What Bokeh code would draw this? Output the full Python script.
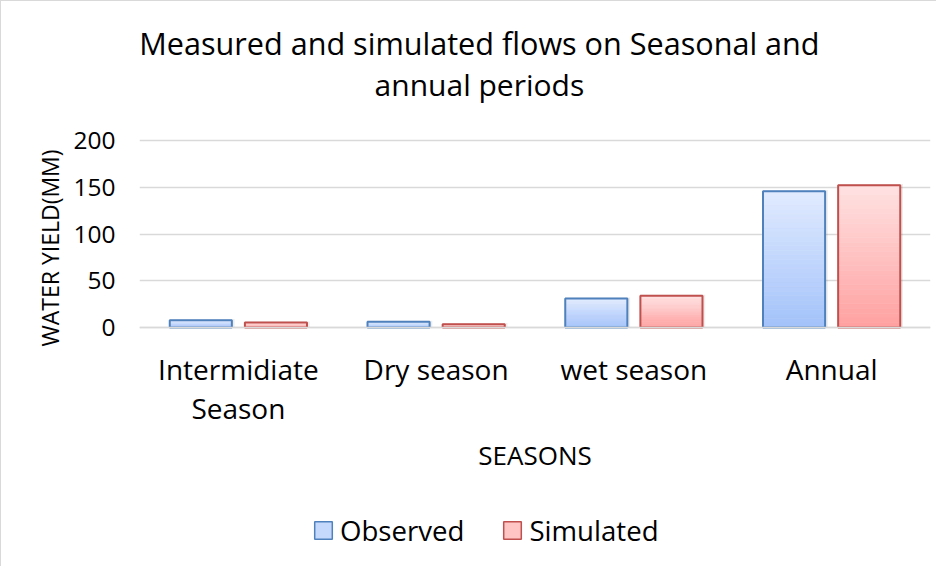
from bokeh.plotting import figure
from bokeh.models import (Range1d, FixedTicker, Title, Label, Legend, LegendItem,
                          ColumnDataSource)
from bokeh.embed import file_html
from bokeh.resources import INLINE

# ---------------- data ----------------
categories = ["Intermidiate\nSeason", "Dry season", "wet season", "Annual"]
observed = [7.8, 6.1, 31.0, 145.8]
simulated = [5.3, 3.5, 33.9, 152.2]
y_ticks = [0, 50, 100, 150, 200]
series_names = ["Observed", "Simulated"]

title_line1 = "Measured and simulated flows on Seasonal and"
title_line2 = "annual periods"
x_title = "SEASONS"
y_title = "WATER YIELD(MM)"

# ---------------- style ----------------
FONT = "Open Sans"
blue_bottom, blue_top = (163, 194, 250), (225, 235, 255)
red_bottom, red_top = (255, 160, 160), (255, 226, 226)
blue_line, red_line = "#4F81BD", "#C0504D"
grid_col = "#D9D9D9"
bar_w = 0.314
offset = 0.19
N_SEG = 30

# The frame spans the whole canvas height so that title, axis texts and
# legend (all drawn inside it) are never clipped; ticks/grid stay at 0..200.
Y_MAX = 348.7
Y_MIN = -256.7

p = figure(width=936, height=566, output_backend="svg", toolbar_location=None,
           title_location=None,
           x_range=Range1d(0, len(categories)), y_range=Range1d(Y_MIN, Y_MAX),
           min_border_left=138, min_border_right=7, min_border_top=0,
           min_border_bottom=0)
p.styles = {"border-left": "1px solid #d9d9d9", "border-top": "1px solid #d9d9d9"}
p.outline_line_color = None
p.background_fill_color = "white"
p.border_fill_color = "white"

xs = [i + 0.5 for i in range(len(categories))]
NAN = float("nan")


def mix(c0, c1, t):
    return "#%02x%02x%02x" % tuple(int(round(a + (b - a) * t)) for a, b in zip(c0, c1))


def gradient_source(values, shift, cb, ct):
    d = dict(x=[], bottom=[], top=[], color=[])
    for xc, v in zip(xs, values):
        for k in range(N_SEG):
            d["x"].append(xc + shift)
            d["bottom"].append(v * k / N_SEG)
            d["top"].append(v * (k + 1) / N_SEG)
            d["color"].append(mix(cb, ct, (k + 0.5) / N_SEG))
    return ColumnDataSource(d)


# soft shadows
for vals, sh in ((observed, -offset), (simulated, offset)):
    p.vbar(x=[x + sh + 0.006 for x in xs], top=[v + 1.2 for v in vals], bottom=0,
           width=bar_w + 0.016, fill_color="#000000", fill_alpha=0.07, line_color=None)

# gradient fills
p.vbar(x="x", bottom="bottom", top="top", width=bar_w, fill_color="color",
       line_color="color", line_width=0.6,
       source=gradient_source(observed, -offset, blue_bottom, blue_top))
p.vbar(x="x", bottom="bottom", top="top", width=bar_w, fill_color="color",
       line_color="color", line_width=0.6,
       source=gradient_source(simulated, offset, red_bottom, red_top))

# outlines
p.vbar(x=[x - offset for x in xs], top=observed, bottom=0, width=bar_w,
       fill_color=None, line_color=blue_line, line_width=2)
p.vbar(x=[x + offset for x in xs], top=simulated, bottom=0, width=bar_w,
       fill_color=None, line_color=red_line, line_width=2)

# legend proxies (not drawn: NaN data)
r_obs = p.vbar(x=[NAN], top=[NAN], bottom=[NAN], width=bar_w,
               fill_color=mix(blue_bottom, blue_top, 0.55),
               line_color=blue_line, line_width=1.5)
r_sim = p.vbar(x=[NAN], top=[NAN], bottom=[NAN], width=bar_w,
               fill_color=mix(red_bottom, red_top, 0.55),
               line_color=red_line, line_width=1.5)

# grid
p.xgrid.grid_line_color = None
p.ygrid.grid_line_color = grid_col
p.ygrid.grid_line_width = 1.3
p.ygrid.ticker = FixedTicker(ticks=y_ticks)

# y axis
p.yaxis.ticker = FixedTicker(ticks=y_ticks)
p.yaxis.axis_line_color = None
p.yaxis.major_tick_line_color = None
p.yaxis.minor_tick_line_color = None
p.yaxis.major_label_standoff = 18
p.yaxis.major_label_text_font = FONT
p.yaxis.major_label_text_font_size = "24.5px"
p.yaxis.major_label_text_color = "black"

# x axis, pinned at y = 0
p.xaxis.fixed_location = 0
p.xaxis.ticker = FixedTicker(ticks=xs)
p.xaxis.major_label_overrides = {x: c for x, c in zip(xs, categories)}
p.xaxis.axis_line_color = grid_col
p.xaxis.axis_line_width = 1.5
p.xaxis.major_tick_line_color = None
p.xaxis.minor_tick_line_color = None
p.xaxis.major_label_standoff = 16
p.xaxis.major_label_text_font = FONT
p.xaxis.major_label_text_font_size = "28px"
p.xaxis.major_label_text_color = "black"
p.xaxis.major_label_text_line_height = 1.03
p.xaxis.axis_label = x_title
p.xaxis.axis_label_standoff = 7
p.xaxis.axis_label_text_font = FONT
p.xaxis.axis_label_text_font_size = "26px"
p.xaxis.axis_label_text_font_style = "normal"
p.xaxis.axis_label_text_color = "black"

# legend
legend = Legend(items=[LegendItem(label=series_names[0], renderers=[r_obs]),
                       LegendItem(label=series_names[1], renderers=[r_sim])],
                orientation="horizontal", location=(173, 18),
                glyph_width=22, glyph_height=22, label_standoff=6, spacing=37,
                padding=0, margin=0, border_line_color=None,
                background_fill_alpha=0,
                label_text_font=FONT, label_text_font_size="27.6px",
                label_text_color="black")
p.add_layout(legend, "center")

# y title (left panel)
p.add_layout(Title(text=y_title, align="left", offset=221, standoff=9,
                   text_font=FONT, text_font_size="23px", text_font_style="normal",
                   text_color="black"), "left")

# chart title, two centred lines
TITLE_X = 1.719
p.add_layout(Label(x=TITLE_X, y=304.5, text=title_line1, text_align="center",
                   text_baseline="alphabetic", text_font=FONT,
                   text_font_size="30.6px", text_color="black"))
p.add_layout(Label(x=TITLE_X, y=259.5, text=title_line2, text_align="center",
                   text_baseline="alphabetic", text_font=FONT,
                   text_font_size="30px", text_color="black"))

open("out.html", "w").write(file_html(p, INLINE))
